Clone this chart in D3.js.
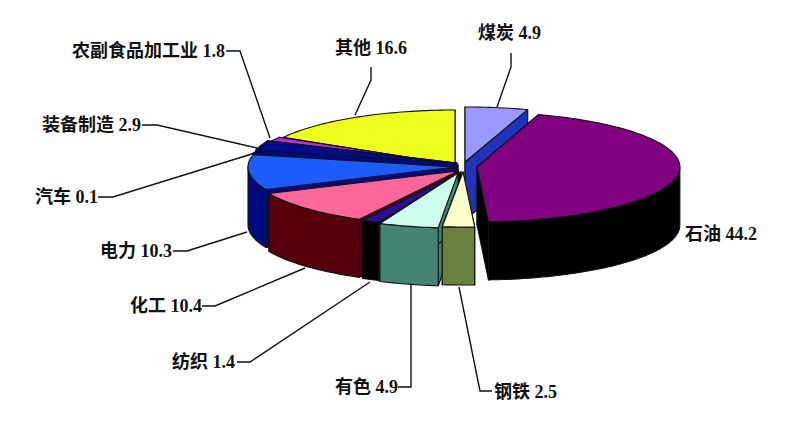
<!DOCTYPE html>
<html>
<head>
<meta charset="utf-8">
<script src="https://cdn.jsdelivr.net/npm/d3@7"></script>
<style>
  body { margin: 0; background: #fff; }
  text { font: bold 18px "Liberation Serif", "Noto Sans CJK SC", serif; fill: #111; }
</style>
</head>
<body>
<svg id="chart" width="788" height="438"></svg>
<script>
// chart data, clockwise from 12 o'clock
const categories = ['煤炭', '石油', '钢铁', '有色', '纺织', '化工', '电力', '汽车', '装备制造', '农副食品加工业', '其他']
const shares = [4.9, 44.2, 2.5, 4.9, 1.4, 10.4, 10.3, 0.1, 2.9, 1.8, 16.6]

// colours, same order as categories
const topColors = ['#9999ff', '#800080', '#ffffcc', '#ccffee', '#2a0f96', '#ff6699', '#1f5cff', '#0a0a80', '#000c8c', '#b22fe0', '#eeff1e']
const wallColors = ['#2233bb', '#000000', '#6b803f', '#458473', '#000000', '#55000a', '#000a80', '#000a80', '#000a80', '#5a1080', '#7f8f20']

// layout: pie geometry, where each exploded wedge has its tip, and the labels
const radiusX = 207
const radiusY = 55
const depth = 58
const apexes = [[465, 162], [477, 167], [463, 172], [458, 173], [461, 172], [458, 171], [455, 167], [455, 165], [457, 163], [458, 165], [455, 165]]
// the original's perspective makes some wedges a little narrower
const widthScale = [1, 0.98, 1, 0.95, 1, 1, 1, 1, 1, 1, 0.96]
const labelRows = [
  { x: 478, y: 33, leader: [[511, 53], [511, 67], [497, 107]] },
  { x: 685, y: 234, leader: [] },
  { x: 494, y: 392, leader: [[492, 391], [480, 391], [459, 287]] },
  { x: 335, y: 387, leader: [[398, 387], [411, 387], [411, 285]] },
  { x: 172, y: 362, leader: [[237, 362], [250, 362], [370, 282]] },
  { x: 130, y: 306, leader: [[202, 306], [215, 306], [305, 268]] },
  { x: 100, y: 251, leader: [[173, 251], [187, 251], [247, 232]] },
  { x: 35, y: 197, leader: [[98, 197], [113, 197], [255, 153]] },
  { x: 42, y: 125, leader: [[142, 125], [157, 125], [257, 148]] },
  { x: 72, y: 51, leader: [[226, 51], [240, 51], [270, 138]] },
  { x: 335, y: 48, leader: [[371, 67], [371, 80], [355, 115]] }
]

const svg = d3.select('#chart')
const line = d3.line()

const slices = d3.pie().sort(null).value((d) => d.share)(
  categories.map((name, i) => ({ name, share: shares[i], index: i }))
)

// project a pie angle onto the tilted ellipse of a wedge
const rim = (i, angle, drop = 0) => [
  apexes[i][0] + radiusX * widthScale[i] * Math.sin(angle),
  apexes[i][1] - radiusY * Math.cos(angle) + drop
]

const arcPoints = (i, from, to, drop = 0) => {
  const steps = Math.max(2, Math.ceil((to - from) * 40))
  const angle = d3.scaleLinear().domain([0, steps]).range([from, to])
  return d3.range(steps + 1).map((s) => rim(i, angle(s), drop))
}

const drawFace = (group, points, fill, edge) => {
  group.append('path')
    .attr('d', line(points) + 'Z')
    .attr('fill', fill)
    .attr('stroke', edge)
    .attr('stroke-width', 1.1)
    .attr('stroke-linejoin', 'round')
}

// leaders go under the pie
slices.forEach((s) => {
  const leader = labelRows[s.data.index].leader
  if (!leader.length) return
  svg.append('path')
    .attr('d', line(leader))
    .attr('fill', 'none')
    .attr('stroke', '#111')
    .attr('stroke-width', 1.4)
})

// paint back to front: furthest from 6 o'clock first
const distanceFromFront = (s) => Math.abs((s.startAngle + s.endAngle) / 2 - Math.PI)
const ordered = slices.slice().sort((a, b) => distanceFromFront(b) - distanceFromFront(a))

ordered.forEach((s) => {
  const i = s.data.index
  const apex = apexes[i]
  const apexLow = [apex[0], apex[1] + depth]
  const group = svg.append('g').attr('class', 'wedge')
  // a sliver this thin would be nothing but outline
  const edge = shares[i] < 0.5 ? wallColors[i] : '#111'

  // cut walls
  ;[s.startAngle, s.endAngle].forEach((a) => {
    drawFace(group, [apex, rim(i, a), rim(i, a, depth), apexLow], wallColors[i], edge)
  })

  // outer wall, only the part that faces the viewer
  const from = Math.max(s.startAngle, Math.PI / 2)
  const to = Math.min(s.endAngle, Math.PI * 1.5)
  if (to > from) {
    const upper = arcPoints(i, from, to)
    const lower = arcPoints(i, from, to, depth).reverse()
    drawFace(group, upper.concat(lower), wallColors[i], edge)
  }

  // top face
  drawFace(group, [apex].concat(arcPoints(i, s.startAngle, s.endAngle)), topColors[i], edge)
})

// labels
slices.forEach((s) => {
  const row = labelRows[s.data.index]
  svg.append('text')
    .attr('x', row.x)
    .attr('y', row.y + 6)
    .text(`${s.data.name} ${s.data.share}`)
})
</script>
</body>
</html>
